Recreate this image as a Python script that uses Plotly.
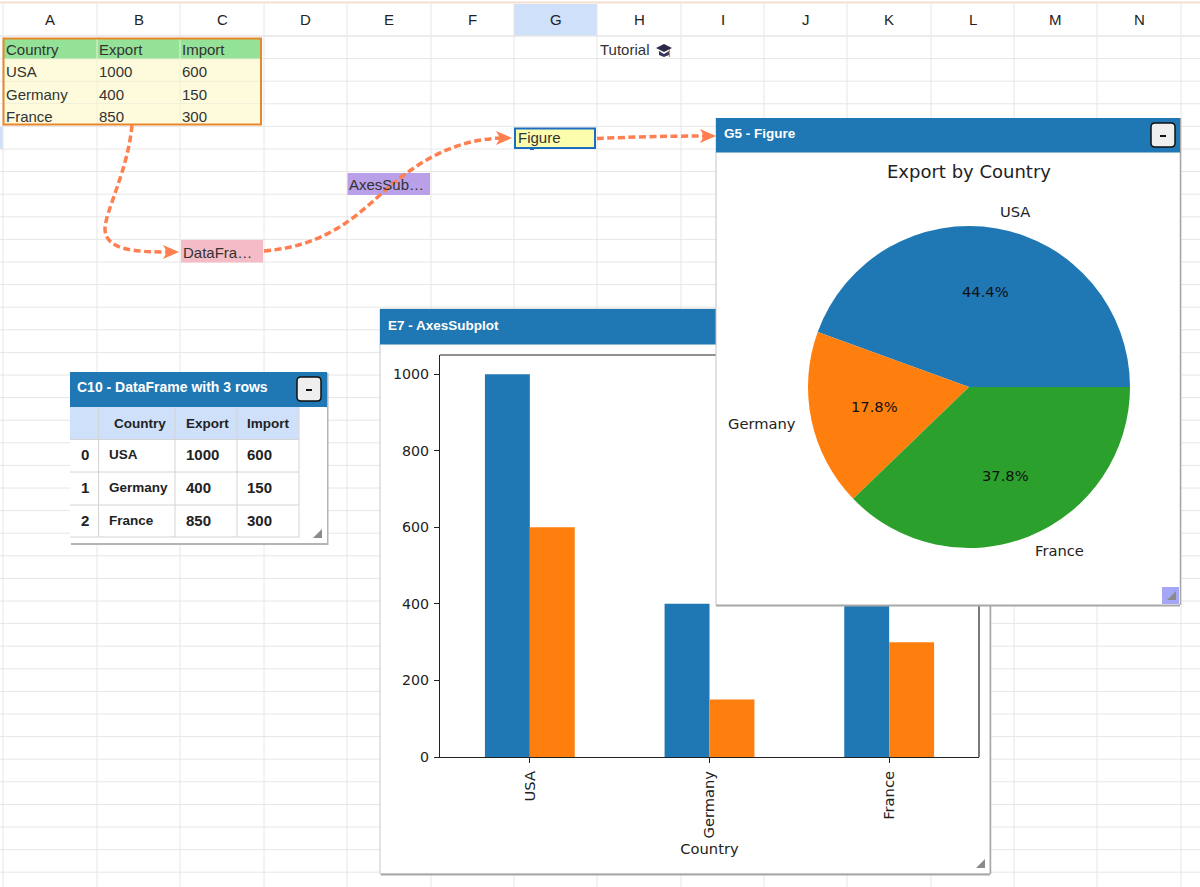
import math
import plotly.graph_objects as go

# ---------- data ----------
countries = ["USA", "Germany", "France"]
export = [1000, 400, 850]
imports = [600, 150, 300]
table_headers = ["Country", "Export", "Import"]
y_ticks = [0, 200, 400, 600, 800, 1000]
column_letters = list("ABCDEFGHIJKLMN")
pie_colors = ["#1f77b4", "#ff7f0e", "#2ca02c"]

# ---------- layout constants (page pixels) ----------
W, H = 1200, 887
BLUE = "#1f77b4"
CORAL = "#ff7f50"
SANS = "Liberation Sans"
DEJA = "DejaVu Sans"
col_edges = [3, 97, 180, 264, 347, 431, 514, 597, 681, 764, 847, 931, 1014, 1097, 1181]
PLOT = (440, 979, 355, 757)
PIE_WIN = (716, 1180, 118, 605)
BAR_WIN = (380, 990, 309, 874)
DF_WIN = (70, 327, 372, 543)


def px(x):
    return x / W


def py(y):
    return 1 - y / H


shapes = []
annotations = []


def rect(x0, x1, y0, y1, fill=None, line=None, lw=1, layer="above"):
    shapes.append(dict(type="rect", xref="paper", yref="paper", x0=px(x0), x1=px(x1), y0=py(y0), y1=py(y1),
                       fillcolor=fill or "rgba(0,0,0,0)", line=dict(color=line or "rgba(0,0,0,0)", width=lw if line else 0),
                       layer=layer))


def seg(x0, y0, x1, y1, color, lw=1, layer="above"):
    shapes.append(dict(type="line", xref="paper", yref="paper", x0=px(x0), x1=px(x1), y0=py(y0), y1=py(y1),
                       line=dict(color=color, width=lw), layer=layer))


def pth(pts, fill=None, line=None, lw=1, dash=None, layer="above"):
    """Path given in page pixels: list of (cmd, x, y, ...)."""
    d = ""
    for p in pts:
        cmd, nums = p[0], p[1:]
        d += cmd
        coords = []
        for i in range(0, len(nums), 2):
            coords.append(f"{px(nums[i]):.5f},{py(nums[i + 1]):.5f}")
        d += " ".join(coords) + " "
    ln = dict(color=line or "rgba(0,0,0,0)", width=lw if line else 0)
    if dash:
        ln["dash"] = dash
    shapes.append(dict(type="path", xref="paper", yref="paper", path=d.strip(), fillcolor=fill or "rgba(0,0,0,0)",
                       line=ln, layer=layer))


def txt(x, y, s, size=15, color="#333333", font=SANS, anchor="left", bold=False):
    dx = {"left": -1, "center": 0, "right": 1}[anchor]
    annotations.append(dict(xref="paper", yref="paper", x=px(x + dx), y=py(y - 0.8), text=f"<b>{s}</b>" if bold else str(s),
                            showarrow=False, xanchor=anchor, yanchor="middle", borderpad=0,
                            font=dict(family=font, size=size, color=color)))


# ---------- spreadsheet ----------
seg(0, 2.5, W, 2.5, "#f3dfcf", 2, "below")
rect(514, 597, 4, 36, fill="#cfe0fa", layer="below")
rect(0, 3, 127, 149, fill="#cfe0fa", layer="below")
for x in col_edges:
    seg(x, 4, x, H, "#e6e6e6", 1, "below")
for k in range(0, 38):
    y = 36 + 22.6 * k
    seg(0, y, W, y, "#e6e6e6", 1.3 if k == 0 else 1, "below")
for i, letter in enumerate(column_letters):
    txt((col_edges[i] + col_edges[i + 1]) / 2, 20, letter, 15, "#222222", anchor="center")

# source table
rect(3, 261, 38, 59, fill="#93e297", layer="below")
rect(3, 261, 59, 125, fill="#fdfbdc", layer="below")
for x in col_edges[1:3]:
    seg(x, 38, x, 125, "#eef0d8", 1, "below")
for k in (1, 2, 3):
    seg(3, 59 + 22.3 * (k - 1), 261, 59 + 22.3 * (k - 1), "#eef0d8", 1, "below")
rect(3.5, 261, 38.5, 124.5, line="#e8862c", lw=2)
row_y = [50, 72.5, 95, 117.5]
for j, (x, head_text) in enumerate(zip((6, 99, 182), table_headers)):
    txt(x, row_y[0], head_text, 15)
for i, c in enumerate(countries):
    txt(6, row_y[i + 1], c, 15)
    txt(99, row_y[i + 1], export[i], 15)
    txt(182, row_y[i + 1], imports[i], 15)

# cells
rect(181, 263, 240, 262.5, fill="#f4bcc6", layer="below")
txt(183, 253, "DataFra…", 15)
rect(347.5, 430, 173, 195, fill="#b9a0e8", layer="below")
txt(349, 185, "AxesSub…", 15)
rect(515, 595, 128.5, 148, fill="#fdfdae", line="#1c6fc0", lw=2)
txt(518, 138, "Figure", 15)
rect(530, 534, 148.5, 150, fill="#1c6fc0")
txt(600, 50, "Tutorial", 15)
# graduation cap
pth([("M", 656, 48), ("L", 664, 44), ("L", 672, 48), ("L", 664, 52), ("Z",)], fill="#2c2a4a")
pth([("M", 659, 51), ("L", 664, 54), ("L", 669, 51), ("L", 669, 55), ("L", 664, 57), ("L", 659, 55), ("Z",)], fill="#3a3560")
seg(669.5, 49, 669.5, 57, "#e8862c", 1.2)

# ---------- bar window (behind the axes) ----------
rect(BAR_WIN[0], BAR_WIN[1], BAR_WIN[2], BAR_WIN[3], fill="#ffffff", line="#c8c8c8", lw=1, layer="below")
seg(BAR_WIN[0] + 1, BAR_WIN[3] + 0.5, BAR_WIN[1], BAR_WIN[3] + 0.5, "#a8a8a8", 2, "below")
seg(BAR_WIN[1] + 0.5, PIE_WIN[3], BAR_WIN[1] + 0.5, BAR_WIN[3], "#a8a8a8", 1.5, "below")
rect(BAR_WIN[0], PIE_WIN[0], 309, 344.5, fill=BLUE)
txt(388, 326, "E7 - AxesSubplot", 13.5, "#ffffff", bold=True)
# frame parts not hidden by the figure window
seg(PLOT[0], PLOT[2], PIE_WIN[0], PLOT[2], "#222222", 1.2)
seg(PLOT[1], PIE_WIN[3], PLOT[1], PLOT[3], "#222222", 1.2)


def grip(cx, cy):
    pth([("M", cx + 5, cy - 5), ("L", cx + 5, cy + 4), ("L", cx - 4, cy + 4), ("Z",)], fill="#8a8a8a")


grip(980, 864)

# ---------- figure window ----------
rect(PIE_WIN[0], PIE_WIN[1], PIE_WIN[2], PIE_WIN[3], fill="#ffffff", layer="below")
seg(PIE_WIN[0], PIE_WIN[2], PIE_WIN[0], PIE_WIN[3], "#c4c4c4", 1)
seg(PIE_WIN[0], PIE_WIN[3] + 0.5, PIE_WIN[1], PIE_WIN[3] + 0.5, "#a8a8a8", 2)
seg(PIE_WIN[1] + 0.5, PIE_WIN[2], PIE_WIN[1] + 0.5, PIE_WIN[3], "#a8a8a8", 1.5)
rect(PIE_WIN[0], PIE_WIN[1], 118, 152.5, fill=BLUE)
txt(724, 134, "G5 - Figure", 13.5, "#ffffff", bold=True)
rect(1162, 1179, 587, 604, fill="#a6a6f6")
grip(1171, 596)


def button(x0, x1, y0, y1):
    r = 4
    pth([("M", x0 + r, y0), ("L", x1 - r, y0), ("Q", x1, y0, x1, y0 + r), ("L", x1, y1 - r), ("Q", x1, y1, x1 - r, y1),
         ("L", x0 + r, y1), ("Q", x0, y1, x0, y1 - r), ("L", x0, y0 + r), ("Q", x0, y0, x0 + r, y0), ("Z",)],
        fill="#efefef", line="#111111", lw=1.5)
    seg((x0 + x1) / 2 - 3, (y0 + y1) / 2 + 1, (x0 + x1) / 2 + 3, (y0 + y1) / 2 + 1, "#111111", 2)


button(1151, 1175, 123, 147)

# pie text from the data
CX, CY, R = 969, 387, 161
txt(CX, 172, "Export by Country", 18, "#222222", DEJA, "center")
total = sum(export)
angle = 0.0
for name, v in zip(countries, export):
    mid = math.radians(angle + v / total * 180)
    angle += v / total * 360
    lx, ly = CX + 1.1 * R * math.cos(mid), CY - 1.1 * R * math.sin(mid)
    txt(lx, ly, name, 14.7, "#222222", DEJA, "left" if math.cos(mid) > 0 else "right")
    txt(CX + 0.6 * R * math.cos(mid), CY - 0.6 * R * math.sin(mid), f"{v / total * 100:.1f}%", 14.7, "#111111", DEJA, "center")

# ---------- dataframe window ----------
x0, x1, y0, y1 = DF_WIN
rect(x0 + 1, x1 + 1.5, y0 + 1, y1 + 2, fill="#b4b4b4")
rect(x0, x1, y0, y1, fill="#ffffff")
rect(x0, x1, y0, 407, fill=BLUE)
txt(77, 388, "C10 - DataFrame with 3 rows", 14, "#ffffff", bold=True)
button(297, 321, 377, 401)
cols = [70, 98.5, 175, 237, 299]
rows = [407, 439.5, 472, 505, 537]
rect(cols[0], cols[-1], rows[0], rows[1], fill="#cfe0fa")
for x in cols[1:]:
    seg(x, rows[0], x, rows[-1], "#d4d4d4", 1)
for y in rows[1:]:
    seg(cols[0], y, cols[-1], y, "#d4d4d4", 1)
for x, head_text, anchor in zip((166, 186, 247), table_headers, ("right", "left", "left")):
    txt(x, 424, head_text, 13.5, "#222222", anchor=anchor, bold=True)
for i, c in enumerate(countries):
    y = (rows[i + 1] + rows[i + 2]) / 2
    txt(85, y, i, 15, "#222222", anchor="center", bold=True)
    txt(109, y, c, 13.5, "#222222", bold=True)
    txt(186, y, export[i], 15, "#222222", bold=True)
    txt(247, y, imports[i], 15, "#222222", bold=True)
grip(317, 534)

# ---------- dashed connectors ----------
DASH = "7px,3.5px"


def head(tx, ty, dx=1.0, dy=0.0):
    nx, ny = -dy, dx
    L, Wd, n = 16, 7, 12
    pth([("M", tx, ty), ("L", tx - L * dx + Wd * nx, ty - L * dy + Wd * ny), ("L", tx - n * dx, ty - n * dy),
         ("L", tx - L * dx - Wd * nx, ty - L * dy - Wd * ny), ("Z",)], fill=CORAL)


pth([("M", 132, 125), ("C", 128, 170, 105, 212, 105, 229), ("C", 105, 250, 135, 252, 167, 252)], line=CORAL, lw=3.5, dash=DASH)
head(179, 252)
pth([("M", 264, 251), ("C", 340, 245, 370, 200, 400, 178), ("C", 430, 155, 460, 140, 500, 138)], line=CORAL, lw=3.5, dash=DASH)
head(512, 138)
pth([("M", 597, 138.5), ("C", 630, 137, 670, 136, 704, 136)], line=CORAL, lw=3.5, dash=DASH)
head(716, 136)

# ---------- traces ----------
fig = go.Figure()
fig.add_bar(x=countries, y=export, name="Export", marker=dict(color=BLUE, line_width=0), xaxis="x", yaxis="y", showlegend=False)
fig.add_bar(x=countries, y=imports, name="Import", marker=dict(color="#ff7f0e", line_width=0), xaxis="x", yaxis="y", showlegend=False)
# the part of the figure window that lies over the bar axes (plotted in page pixels on a hidden overlay)
panel_x = [PIE_WIN[0], PLOT[1], PLOT[1], PIE_WIN[0], PIE_WIN[0]]
panel_y = [PLOT[2], PLOT[2], PIE_WIN[3], PIE_WIN[3], PLOT[2]]
fig.add_scatter(x=panel_x, y=panel_y, xaxis="x2", yaxis="y2", mode="lines", fill="toself", fillcolor="#ffffff",
                line=dict(width=0, color="#ffffff"), hoverinfo="skip", showlegend=False)
fig.add_pie(labels=countries, values=export, sort=False, direction="counterclockwise",
            rotation=90 - 360 * export[0] / total,
            textinfo="none", marker=dict(colors=pie_colors, line=dict(width=0)), showlegend=False,
            domain=dict(x=[px(CX - R), px(CX + R)], y=[py(CY + R), py(CY - R)]))

fig.update_layout(
    width=W, height=H, margin=dict(l=0, r=0, t=0, b=0), autosize=False,
    paper_bgcolor="#ffffff", plot_bgcolor="rgba(0,0,0,0)", barmode="group", bargap=0.5, bargroupgap=0,
    shapes=shapes, annotations=annotations,
    xaxis=dict(domain=[px(PLOT[0]), px(PLOT[1])], type="category", range=[-0.5, 2.5], categoryorder="array", categoryarray=countries,
               automargin=False,
               showline=True, linecolor="#222222", linewidth=1.2, ticks="outside", ticklen=5, tickcolor="#222222",
               tickangle=-90, showgrid=False, ticklabelstandoff=2, tickfont=dict(family=DEJA, size=14.7, color="#222222"),
               title=dict(text="Country", standoff=6, font=dict(family=DEJA, size=14.7, color="#222222"))),
    yaxis=dict(domain=[py(PLOT[3]), py(PLOT[2])], range=[0, 1050], tickvals=y_ticks, automargin=False,
               showline=True, linecolor="#222222", linewidth=1.2,
               ticks="outside", ticklen=5, tickcolor="#222222", showgrid=False, zeroline=False, ticklabelstandoff=2,
               tickfont=dict(family=DEJA, size=14.2, color="#222222")),
    xaxis2=dict(overlaying="x", range=[PLOT[0], PLOT[1]], visible=False, automargin=False),
    yaxis2=dict(overlaying="y", range=[PLOT[3], PLOT[2]], visible=False, automargin=False),
)

fig.write_html("out.html", config={"displayModeBar": False}, post_script="document.body.style.margin='0';")
